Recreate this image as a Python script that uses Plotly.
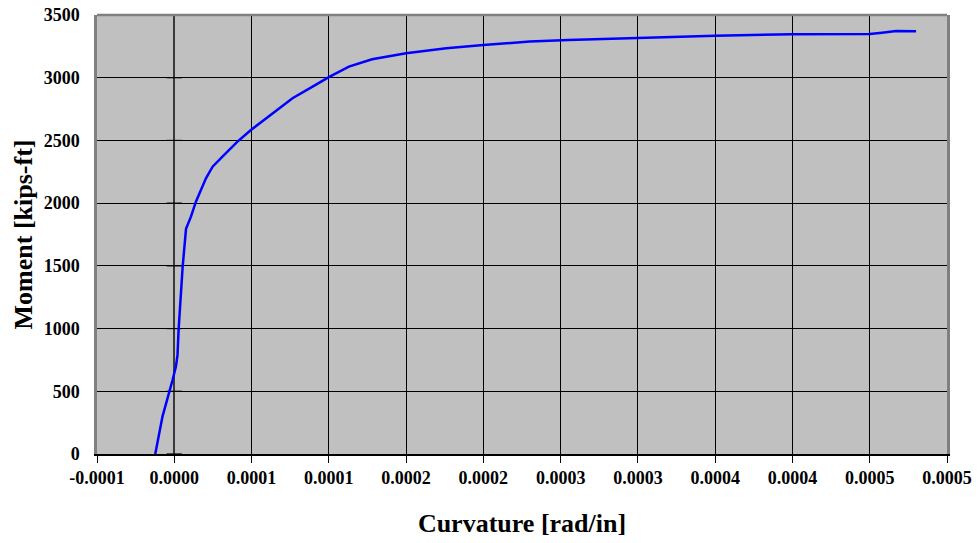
import plotly.graph_objects as go

# Moment-curvature response of the section
curvature = [
    -1.23e-5, -7.6e-6, -1.1e-6, 1.1e-6, 2.1e-6, 2.8e-6, 5.4e-6, 7.1e-6, 7.6e-6,
    1.08e-5, 1.40e-5, 2.05e-5, 2.48e-5, 3.23e-5, 4.09e-5, 4.96e-5, 5.82e-5,
    6.36e-5, 7.65e-5, 8.95e-5, 1.00e-4, 1.13e-4, 1.28e-4, 1.50e-4, 1.76e-4,
    2.00e-4, 2.30e-4, 2.55e-4, 2.94e-4, 3.50e-4, 4.00e-4, 4.50e-4, 4.58e-4,
    4.67e-4, 4.80e-4,
]
moment = [
    0, 300, 590, 700, 790, 990, 1490, 1690, 1795,
    1892, 2012, 2198, 2291, 2384, 2490, 2583, 2663,
    2716, 2836, 2929, 3005, 3088, 3147, 3195, 3235,
    3261, 3288, 3301, 3317, 3335, 3346, 3349, 3359,
    3372, 3370,
]

# Axis ticks
x_tick_values = [-0.00005, 0.0, 0.00005, 0.0001, 0.00015, 0.0002, 0.00025,
                 0.0003, 0.00035, 0.0004, 0.00045, 0.0005]
x_tick_labels = ["-0.0001", "0.0000", "0.0001", "0.0001", "0.0002", "0.0002",
                 "0.0003", "0.0003", "0.0004", "0.0004", "0.0005", "0.0005"]
y_tick_values = [0, 500, 1000, 1500, 2000, 2500, 3000, 3500]

FONT = "Liberation Serif, Times New Roman, serif"

fig = go.Figure()

# cross ticks on the vertical axis at curvature = 0
fig.add_trace(go.Scatter(
    x=[0.0] * len(y_tick_values), y=y_tick_values, mode="markers",
    marker=dict(symbol="line-ew", size=11, line=dict(color="#000000", width=1.2)),
    hoverinfo="skip", showlegend=False, cliponaxis=False,
))

fig.add_trace(go.Scatter(
    x=curvature, y=moment, mode="lines",
    line=dict(color="#0000FF", width=2.5),
    showlegend=False,
))

fig.update_layout(
    width=979, height=543,
    margin=dict(l=97, r=32, t=15, b=89, autoexpand=False),
    paper_bgcolor="#FFFFFF",
    plot_bgcolor="#C0C0C0",
    font=dict(family=FONT, color="#000000"),
    shapes=[dict(type="line", xref="paper", yref="paper", x0=0, x1=1, y0=1, y1=1,
                 line=dict(color="#808080", width=2.5))],
)

fig.update_xaxes(
    range=[-0.00005, 0.0005], automargin=False,
    tickmode="array", tickvals=x_tick_values, ticktext=x_tick_labels,
    tickfont=dict(family=FONT, size=18, color="#000000", weight="bold"),
    ticks="outside", ticklen=7, tickcolor="#000000", tickwidth=1,
    showgrid=True, gridcolor="#000000", gridwidth=1,
    zeroline=True, zerolinecolor="#3a3a3a", zerolinewidth=2,
    showline=True, linecolor="#000000", linewidth=1.5, mirror=False,
    title=dict(text="Curvature [rad/in]", standoff=26,
               font=dict(family=FONT, size=26, color="#000000", weight="bold")),
)
fig.update_yaxes(
    range=[0, 3500], automargin=False,
    tickmode="array", tickvals=y_tick_values,
    tickfont=dict(family=FONT, size=18, color="#000000", weight="bold"),
    ticks="", ticklabelstandoff=11,
    showgrid=True, gridcolor="#000000", gridwidth=1,
    zeroline=False,
    showline=True, linecolor="#808080", linewidth=2.5, mirror=True,
    title=dict(text="Moment [kips-ft]", standoff=4,
               font=dict(family=FONT, size=26, color="#000000", weight="bold")),
)

fig.write_html("out.html")
